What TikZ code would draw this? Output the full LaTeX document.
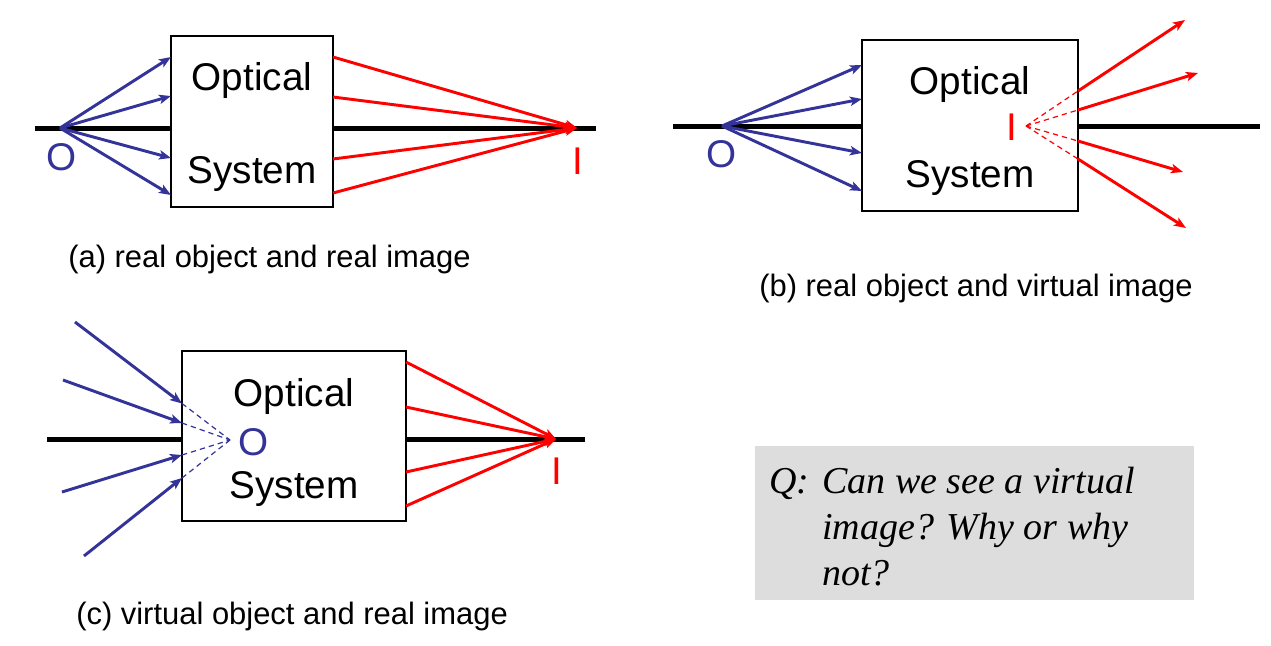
\documentclass[tikz,border=0pt]{standalone}
\usepackage{fontspec}
\setmainfont{Liberation Sans}
\newfontfamily\qfont{Liberation Serif}
\usetikzlibrary{arrows.meta}
\definecolor{rayblue}{HTML}{333399}
\definecolor{rayred}{HTML}{FF0000}
\definecolor{qgray}{HTML}{DDDDDD}
\begin{document}
\begin{tikzpicture}[x=0.75pt,y=-0.75pt,
  axis/.style={line width=3.75pt,black},
  optbox/.style={draw=black,line width=1pt,fill=white,rectangle,inner sep=0pt},
  boxtext/.style={inner sep=0pt,font=\fontsize{29}{34}\selectfont},
  ptlabel/.style={inner sep=0pt,font=\fontsize{29}{34}\selectfont},
  caption/.style={inner sep=0pt,anchor=west,font=\fontsize{23.2}{28}\selectfont},
  tipstyle/.style={-{Stealth[length=9pt,width=7pt,inset=2.2pt]}},
  blueray/.style={rayblue,line width=2.2pt,tipstyle},
  redarrow/.style={rayred,line width=2.2pt,tipstyle},
  virtualray/.style={line width=0.9pt,dash pattern=on 4pt off 3pt},
  qtext/.style={inner sep=0pt,anchor=base west,font=\qfont\itshape\fontsize{28.5}{34}\selectfont},
]
\useasboundingbox (0,0) rectangle (1271,646);

% ---------------- (a) ----------------
\coordinate (aL) at (35,128);
\coordinate (aR) at (596,128);
\draw[axis] (aL) -- (aR);
\node[optbox,minimum width=121.5pt,minimum height=128.25pt] (boxa) at (252,121.5) {};
\node[boxtext] (opta) at (252,81) {Optical};
\node[boxtext] (sysa) at (252,174) {System};
\coordinate (Oa) at (60,128);
\coordinate (Ia) at (577,128);
\foreach \y [count=\i] in {57,96,158,195} \coordinate (ain\i) at (171,\y);
\foreach \y [count=\i] in {57,97,159,193} \coordinate (aout\i) at (333,\y);
\foreach \i in {1,...,4} {
  \draw[blueray] (Oa) -- (ain\i);
  \draw[redarrow] (aout\i) -- (Ia);
}
\node[ptlabel,text=rayblue] (Oalab) at (62,157) {O};
\node[ptlabel,text=rayred] (Ialab) at (578,161) {I};
\node[caption] (capa) at (68,259) {(a) real object and real image};

% ---------------- (b) ----------------
\coordinate (bL) at (673,126);
\coordinate (bR) at (1260,126);
\draw[axis] (bL) -- (bR);
\node[optbox,minimum width=162pt,minimum height=128.25pt] (boxb) at (970,125.5) {};
\node[boxtext] (optb) at (970,85) {Optical};
\node[boxtext] (sysb) at (970,178) {System};
\coordinate (Ob) at (722,126);
\coordinate (Ib) at (1026,126);
\foreach \y [count=\i] in {65,99,153,191} \coordinate (bin\i) at (862,\y);
\foreach \y [count=\i] in {91,110,141,159} \coordinate (bout\i) at (1078,\y);
\coordinate (btip1) at (1185,20);
\coordinate (btip2) at (1198,73);
\coordinate (btip3) at (1183,172);
\coordinate (btip4) at (1186,228);
\foreach \i in {1,...,4} {
  \draw[blueray] (Ob) -- (bin\i);
  \draw[rayred,virtualray] (Ib) -- (bout\i);
  \draw[redarrow] (bout\i) -- (btip\i);
}
\node[ptlabel,text=rayblue] (Oblab) at (722,154) {O};
\node[ptlabel,text=rayred] (Iblab) at (1012,127) {I};
\node[caption] (capb) at (759,288) {(b) real object and virtual image};

% ---------------- (c) ----------------
\coordinate (cL) at (47,439);
\coordinate (cR) at (585,439);
\draw[axis] (cL) -- (cR);
\node[optbox,minimum width=168pt,minimum height=127.5pt] (boxc) at (294,436) {};
\node[boxtext] (optc) at (294,396) {Optical};
\node[boxtext] (sysc) at (294,489) {System};
\coordinate (Oc) at (230,440);
\coordinate (Ic) at (556,439);
\coordinate (cs1) at (75,322);
\coordinate (cs2) at (63,380);
\coordinate (cs3) at (62,492);
\coordinate (cs4) at (84,556);
\foreach \y [count=\i] in {403.5,423,455,478} \coordinate (cin\i) at (182,\y);
\foreach \y [count=\i] in {362,407,472,506} \coordinate (cout\i) at (406,\y);
\foreach \i in {1,...,4} {
  \draw[blueray] (cs\i) -- (cin\i);
  \draw[rayblue,virtualray] (cin\i) -- (Oc);
  \draw[redarrow] (cout\i) -- (Ic);
}
\node[ptlabel,text=rayblue] (Oclab) at (254,442) {O};
\node[ptlabel,text=rayred] (Iclab) at (557,471) {I};
\node[caption] (capc) at (76,616) {(c) virtual object and real image};

% ---------------- Q box ----------------
\node[fill=qgray,draw=none,minimum width=329.25pt,minimum height=115.5pt,inner sep=0pt] (qbox) at (974.5,523) {};
\node[qtext] (qq) at (769,493) {Q:};
\node[qtext] (q1) at (822,493) {Can we see a virtual};
\node[qtext] (q2) at (822,539) {image? Why or why};
\node[qtext] (q3) at (822,585) {not?};
\end{tikzpicture}
\end{document}
